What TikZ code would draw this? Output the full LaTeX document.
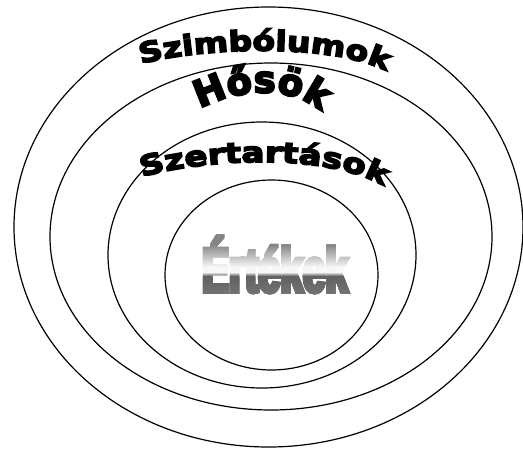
\documentclass[tikz,border=0pt]{standalone}
\usepackage{fontspec}
\usetikzlibrary{shapes.geometric,decorations.text}
\newfontfamily\archfam[FakeStretch=1.18,FakeBold=5.5]{DejaVu Sans}
\newfontfamily\ritefam[FakeStretch=1.22,FakeBold=5.5]{DejaVu Sans}
\newfontfamily\herofam[FakeStretch=1.0,FakeBold=5.5]{DejaVu Sans}
\newfontfamily\valfam[FakeStretch=0.64,FakeBold=6]{Liberation Sans}
\newcommand\symfont{\archfam\bfseries\fontsize{28pt}{30pt}\selectfont}
\newcommand\herofont{\herofam\bfseries\fontsize{37pt}{40pt}\selectfont}
\newcommand\ritefont{\ritefam\bfseries\fontsize{28pt}{30pt}\selectfont}
\newcommand\valfont{\valfam\bfseries\fontsize{63pt}{70pt}\selectfont}
\begin{document}
\begin{tikzpicture}[x=1pt,y=-1pt,
  ring/.style={draw=black, line width=1.2pt, ellipse, inner sep=0pt, outer sep=0pt},
  arch/.style={decorate, decoration={text along path, text align=left, #1}}]
\useasboundingbox (0,0) rectangle (523,448);
% nested rings
\node[ring, minimum width=509pt, minimum height=440pt] (outer) at (268.5,227) {};
\node[ring, minimum width=442pt, minimum height=347pt] (heroes) at (271,236.5) {};
\node[ring, minimum width=308pt, minimum height=266pt] (rites) at (262,255) {};
\node[ring, minimum width=213pt, minimum height=190pt] (values) at (271.5,275) {};
% arched labels
\path[arch={text={|\symfont|Szimbólumok}}]
  (141,64) .. controls (200,48) and (330,42) .. (388,72) -- ++(50,30);
\path[arch={text={|\herofont|Hősök}}]
  (200,109) .. controls (230,92) and (290,80) .. (326,116) -- ++(30,35);
\path[arch={text={|\ritefont|Szertartások}}]
  (142,177) .. controls (200,160) and (330,150) .. (390,190) -- ++(40,27);
% gradient label in the centre
\foreach \y in {232,...,296}{
  \pgfmathsetmacro\L{\y<247 ? 52 : (\y<268 ? 55+(\y-247)*2 : (\y<273 ? 97 : (\y<277 ? 97-(\y-273)*14.75 : 38+(\y-277)*0.4)))}
  \pgfmathsetmacro\K{100-\L}
  \begin{scope}
    \clip (185,\y-0.2) rectangle (365,\y+1);
    \node[anchor=base, inner sep=0pt, text=black!\K] (val\y) at (275,292) {\valfont Értékek};
  \end{scope}
}
\end{tikzpicture}
\end{document}
